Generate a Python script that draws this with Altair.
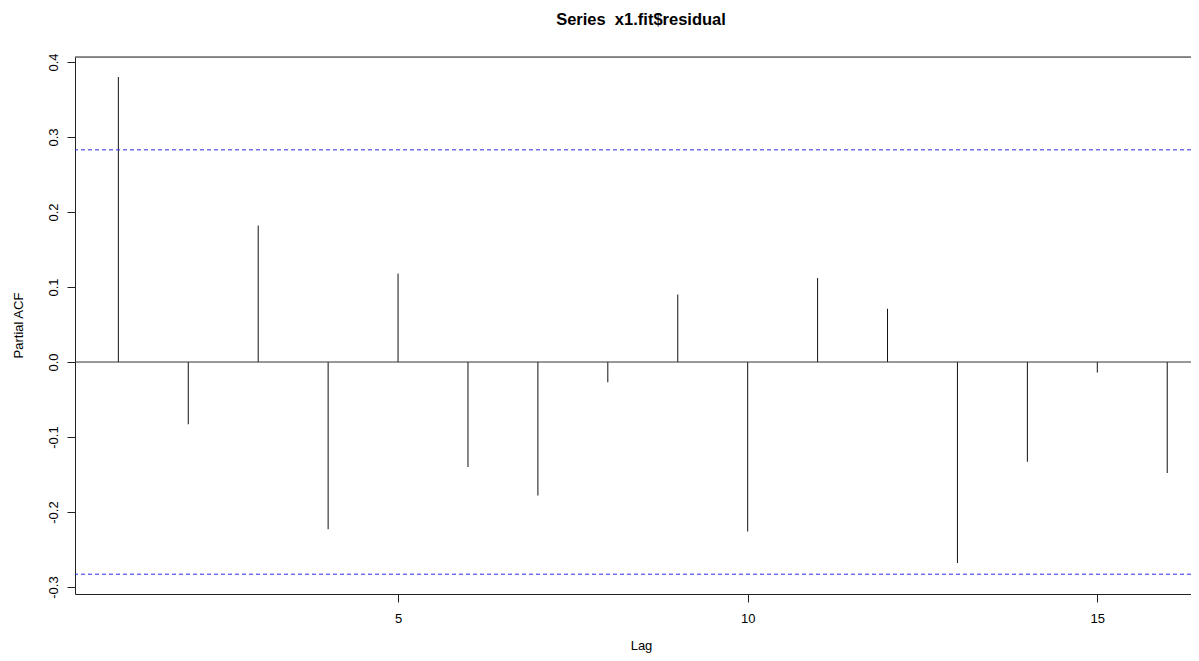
import altair as alt
import pandas as pd

# ---- data ----
lags = [1, 2, 3, 4, 5, 6, 7, 8, 9, 10, 11, 12, 13, 14, 15, 16]
pacf = [0.380, -0.083, 0.182, -0.223, 0.118, -0.140, -0.178, -0.027,
        0.090, -0.226, 0.112, 0.071, -0.268, -0.133, -0.014, -0.148]
ci_limits = [0.2829, -0.2829]
y_ticks = [-0.3, -0.2, -0.1, 0.0, 0.1, 0.2, 0.3, 0.4]
x_ticks = [5, 10, 15]
x_domain = [0.38, 16.34]
y_domain = [-0.3093, 0.4067]

df = pd.DataFrame({"lag": lags, "pacf": pacf})
ci_df = pd.DataFrame({"ci": ci_limits})
top_df = pd.DataFrame({"top": [y_domain[1]]})
zero_df = pd.DataFrame({"z": [0.0]})

FONT = "Liberation Sans"
W, H = 1116, 537

x_enc = alt.X(
    "lag:Q",
    scale=alt.Scale(domain=x_domain, nice=False, zero=False),
    axis=alt.Axis(
        values=x_ticks, title="Lag", grid=False, tickSize=8, labelPadding=10,
        labelFontSize=13, titleFontSize=13, titleFontWeight="normal",
        titleX=566, titleY=51, titleBaseline="middle", titleAlign="center",
        domainColor="#222222", tickColor="#222222", labelColor="#000000",
        titleColor="#000000", labelFont=FONT, titleFont=FONT,
    ),
)
y_enc = alt.Y(
    "pacf:Q",
    scale=alt.Scale(domain=y_domain, nice=False, zero=False),
    axis=alt.Axis(
        values=y_ticks, title="Partial ACF", grid=False, tickSize=8,
        labelAngle=-90, labelAlign="center", labelBaseline="bottom",
        labelPadding=7, labelFontSize=13, titleFontSize=13,
        titleFontWeight="normal", titleAngle=-90, titleX=-57, titleY=268,
        titleBaseline="middle", titleAlign="center",
        labelExpr="datum.value < -0.00001 ? '-' + format(-datum.value, '.1f') : format(abs(datum.value), '.1f')",
        domainColor="#222222", tickColor="#222222", labelColor="#000000",
        titleColor="#000000", labelFont=FONT, titleFont=FONT,
    ),
)

spikes = alt.Chart(df).mark_rule(color="#111111", strokeWidth=1).encode(
    x=x_enc, y=y_enc, y2=alt.datum(0)
)
zero = alt.Chart(zero_df).mark_rule(color="#333333", strokeWidth=1).encode(
    y="z:Q"
)
ci = alt.Chart(ci_df).mark_rule(
    color="#2a2ae6", strokeWidth=1, strokeDash=[4, 3]
).encode(y="ci:Q")
top = alt.Chart(top_df).mark_rule(color="#222222", strokeWidth=1).encode(
    y="top:Q"
)

chart = (
    alt.layer(spikes, zero, ci, top)
    .properties(
        width=W,
        height=H,
        title=alt.TitleParams(
            "Series\u00a0 x1.fit$residual", font=FONT, fontSize=16.5,
            fontWeight="bold", color="#000000", anchor="middle", dx=8,
            offset=24,
        ),
        autosize=alt.AutoSizeParams(type="none"),
        padding={"left": 67, "top": 49, "right": 0, "bottom": 59},
    )
    .configure_view(strokeWidth=0)
    .configure(background="#ffffff")
)

chart.save("out.html", embed_options={"renderer": "svg", "actions": False})
